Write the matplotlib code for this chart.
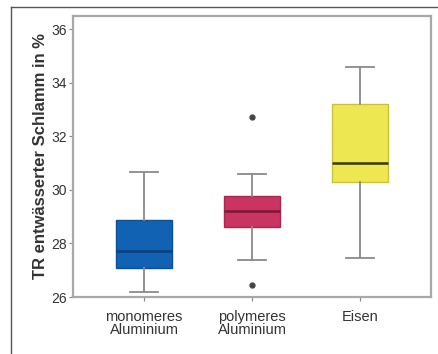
import matplotlib
matplotlib.use("Agg")
import matplotlib.pyplot as plt
from matplotlib.lines import Line2D

plt.rcParams["font.family"] = ["Liberation Sans", "DejaVu Sans"]

categories = ["monomeres\nAluminium", "polymeres\nAluminium", "Eisen"]
whislo = [26.2, 27.38, 27.47]
q1 = [27.07, 28.62, 30.28]
median = [27.73, 29.22, 31.01]
q3 = [28.87, 29.77, 33.2]
whishi = [30.68, 30.59, 34.59]
fliers = [[], [26.45, 32.73], []]
yticks = [26, 28, 30, 32, 34, 36]

face = ["#1262b4", "#c93462", "#ede852"]
edge = ["#0d4f94", "#a82650", "#c9c23a"]
medc = ["#0a3f78", "#7a1838", "#3a3410"]

fig = plt.figure(figsize=(4.39, 3.54), dpi=100)
ax = fig.add_axes([0.166, 0.161, 0.816, 0.794])

stats = []
for i in range(3):
    stats.append(dict(whislo=whislo[i], q1=q1[i], med=median[i], q3=q3[i],
                      whishi=whishi[i], fliers=fliers[i], label=categories[i]))

for i, s in enumerate(stats):
    ax.bxp([s], positions=[i + 1], widths=0.52, patch_artist=True,
           boxprops=dict(facecolor=face[i], edgecolor=edge[i], linewidth=1.0),
           medianprops=dict(color=medc[i], linewidth=1.8),
           whiskerprops=dict(color="#8a8a8a", linewidth=1.3),
           capprops=dict(color="#8a8a8a", linewidth=1.3),
           capwidths=0.26,
           flierprops=dict(marker="o", markersize=3.5, markerfacecolor="#444444",
                           markeredgecolor="#444444"))

ax.set_xlim(0.34, 3.66)
ax.set_ylim(26, 36.5)
ax.set_yticks(yticks)
ax.set_yticklabels([str(t) for t in yticks])
ax.set_xticks([1, 2, 3])
ax.set_xticklabels(categories, fontsize=10.5, linespacing=0.95)
for sp in ax.spines.values():
    sp.set_color("#a8a8a8")
    sp.set_linewidth(1.6)
ax.tick_params(axis="both", colors="#888888", labelcolor="#333333",
               length=3, width=0.8)
ax.tick_params(axis="y", labelsize=10, pad=1)
ax.tick_params(axis="x", pad=6)
ax.set_ylabel("TR entwässerter Schlamm in %", fontsize=12, color="#333333",
              fontweight="bold", labelpad=3)

# outer frame (top and left)
fig.add_artist(Line2D([11 / 439, 11 / 439], [0, 1 - 7 / 354], color="#555555",
                      linewidth=1.0, transform=fig.transFigure))
fig.add_artist(Line2D([11 / 439, 1], [1 - 7 / 354, 1 - 7 / 354], color="#555555",
                      linewidth=1.0, transform=fig.transFigure))

fig.savefig("out.png", dpi=100)
